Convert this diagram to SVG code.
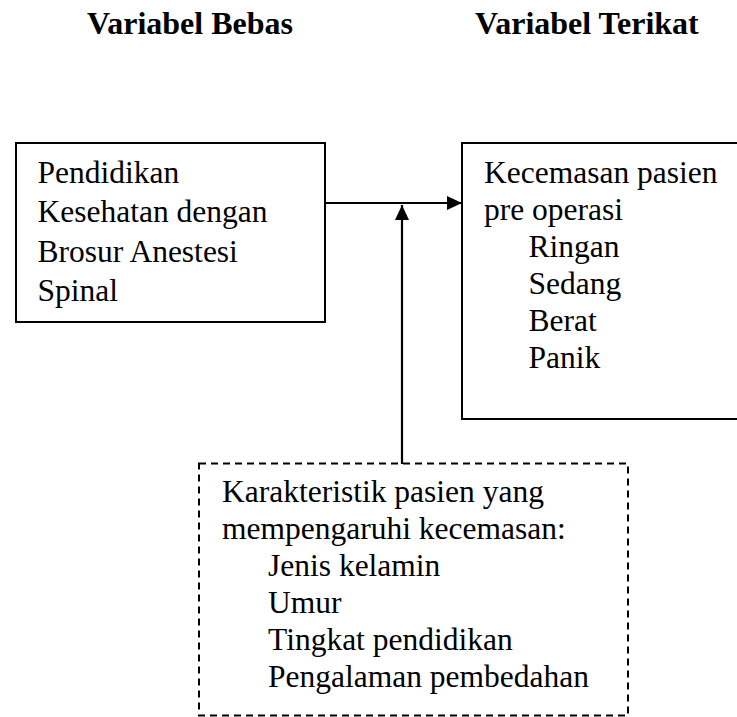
<svg xmlns="http://www.w3.org/2000/svg" width="737" height="717" viewBox="0 0 737 717">
  <style>
    .t { font-family: "Liberation Serif", "Times New Roman", serif; font-size: 31.5px; fill: #000; }
    .h { font-family: "Liberation Serif", "Times New Roman", serif; font-size: 32px; font-weight: bold; fill: #000; }
    .box { fill: #fff; stroke: #000; stroke-width: 2; }
    .dash { fill: none; stroke: #000; stroke-width: 2; stroke-dasharray: 7 5; }
    .line { fill: none; stroke: #000; stroke-width: 2.2; }
  </style>
  <defs>
    <marker id="arrow" viewBox="0 0 15 14" refX="15" refY="7" markerWidth="15" markerHeight="14" markerUnits="userSpaceOnUse" orient="auto">
      <path d="M0,0 L15,7 L0,14 Z" fill="#000"/>
    </marker>
  </defs>
  <rect width="737" height="717" fill="#fff"/>

  <g id="headers">
    <text class="h" x="87" y="34">Variabel Bebas</text>
    <text class="h" x="475" y="34">Variabel Terikat</text>
  </g>

  <g id="connectors">
    <line class="line" x1="325" y1="203" x2="462" y2="203" marker-end="url(#arrow)"/>
    <line class="line" x1="402" y1="464" x2="402" y2="205" marker-end="url(#arrow)"/>
  </g>

  <g id="node-bebas">
    <rect class="box" x="16" y="143" width="309" height="179"/>
    <text class="t" x="37.5" y="183">Pendidikan</text>
    <text class="t" x="37.5" y="222.3">Kesehatan dengan</text>
    <text class="t" x="37.5" y="261.6">Brosur Anestesi</text>
    <text class="t" x="37.5" y="301">Spinal</text>
  </g>

  <g id="node-terikat">
    <rect class="box" x="462" y="143" width="290" height="276"/>
    <text class="t" x="484" y="183">Kecemasan pasien</text>
    <text class="t" x="484" y="220">pre operasi</text>
    <text class="t" x="528.5" y="257">Ringan</text>
    <text class="t" x="528.5" y="294">Sedang</text>
    <text class="t" x="528.5" y="331">Berat</text>
    <text class="t" x="528.5" y="368">Panik</text>
  </g>

  <g id="node-karakteristik">
    <rect class="dash" x="199" y="463.5" width="429" height="252"/>
    <text class="t" x="222" y="502">Karakteristik pasien yang</text>
    <text class="t" x="222" y="539">mempengaruhi kecemasan:</text>
    <text class="t" x="268" y="576">Jenis kelamin</text>
    <text class="t" x="268" y="613">Umur</text>
    <text class="t" x="268" y="650">Tingkat pendidikan</text>
    <text class="t" x="268" y="687">Pengalaman pembedahan</text>
  </g>
</svg>
